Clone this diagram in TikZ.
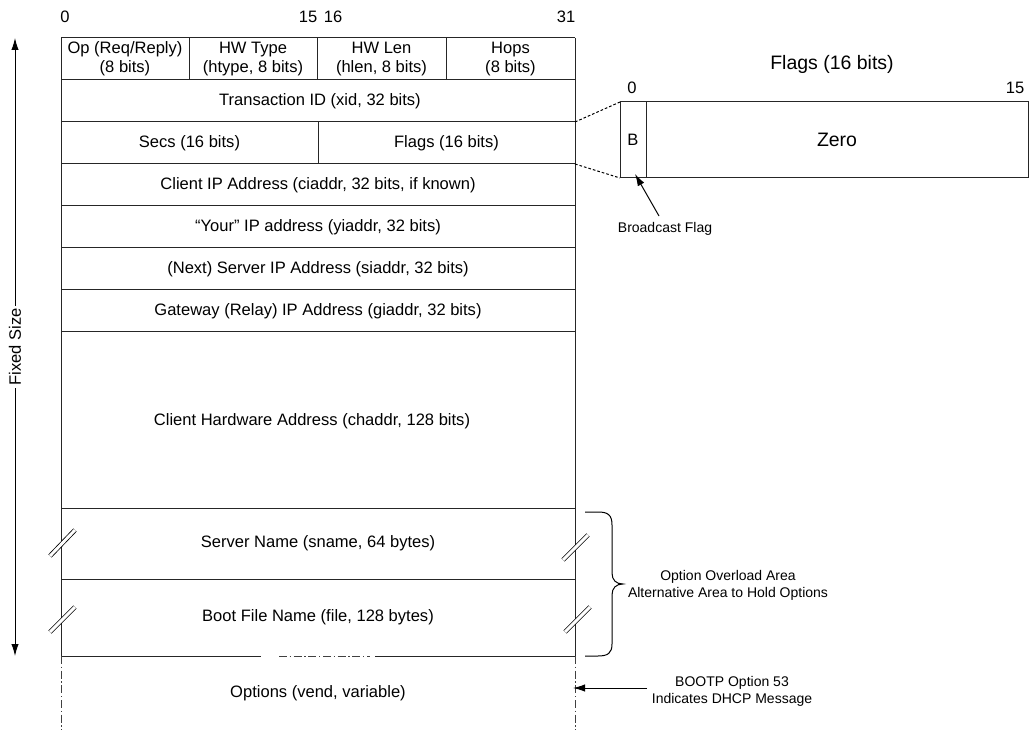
\documentclass[tikz,border=0pt]{standalone}
\usepackage{fontspec}
\setmainfont{Liberation Sans}
\usetikzlibrary{arrows.meta}
\begin{document}
\begin{tikzpicture}[x=0.75pt,y=-0.75pt,
  main/.style={font=\fontsize{12.4}{14.3}\selectfont, align=center, inner sep=0pt},
  small/.style={font=\fontsize{10.5}{12.8}\selectfont, align=center, inner sep=0pt},
  big/.style={font=\fontsize{14.6}{17}\selectfont, inner sep=0pt},
  frame/.style={line width=0.75pt, draw=black!85},
  brk/.style={draw=black, line width=0.6pt, double=white, double distance=2.2pt},
  dashdot/.style={line width=0.75pt, draw=black!75, dash pattern=on 6pt off 2pt on 1pt off 2pt},
  dotline/.style={line width=0.75pt, dash pattern=on 2pt off 1.5pt},
  tip/.style={line width=0.75pt, -{Latex[length=9pt,width=5.5pt]}}]
\useasboundingbox (0,0) rectangle (1030,730);

% bit numbers
\node[main] (n0) at (65,17) {0};
\node[main] (n15) at (308,17) {15};
\node[main] (n16) at (333,17) {16};
\node[main] (n31) at (566,17) {31};

% frame of fixed part
\draw[frame] (61,38) -- (575,38);
\foreach \y in {80,122,164,206,248,290,332,508,579}
  \draw[frame] (61,\y) -- (575,\y);
\draw[frame] (61,38) -- (61,656);
\draw[frame] (575,38) -- (575,656);
\draw[frame] (189,38) -- (189,80);
\draw[frame] (317,38) -- (317,80);
\draw[frame] (446,38) -- (446,80);
\draw[frame] (318,122) -- (318,164);
\draw[frame] (61,656) -- (261,656);
\draw[dashdot] (279,656) -- (370,656);
\draw[frame] (375,656) -- (575,656);
\draw[dashdot] (61,656) -- (61,730);
\draw[dashdot] (575,656) -- (575,730);

% break marks
\draw[brk] (50,556) -- (75,530);
\draw[brk] (50,632) -- (75,607);
\draw[brk] (563,560) -- (588,535);
\draw[brk] (565,632) -- (590,607);

% field texts
\node[main] (op) at (125,59) {Op (Req/Reply)\\(8 bits)};
\node[main] (htype) at (253,59) {HW Type\\(htype, 8 bits)};
\node[main] (hlen) at (381.5,59) {HW Len\\(hlen, 8 bits)};
\node[main] (hops) at (510.5,59) {Hops\\(8 bits)};
\node[main] (xid) at (320,101) {Transaction ID (xid, 32 bits)};
\node[main] (secs) at (189.5,143) {Secs (16 bits)};
\node[main] (flags) at (446.5,143) {Flags (16 bits)};
\node[main] (ciaddr) at (318,185) {Client IP Address (ciaddr, 32 bits, if known)};
\node[main] (yiaddr) at (318,227) {“Your” IP address (yiaddr, 32 bits)};
\node[main] (siaddr) at (318,269) {(Next) Server IP Address (siaddr, 32 bits)};
\node[main] (giaddr) at (318,311) {Gateway (Relay) IP Address (giaddr, 32 bits)};
\node[main] (chaddr) at (312,421) {Client Hardware Address (chaddr, 128 bits)};
\node[main] (sname) at (318,543.5) {Server Name (sname, 64 bytes)};
\node[main] (file) at (318,617.5) {Boot File Name (file, 128 bytes)};
\node[main] (vend) at (318,693) {Options (vend, variable)};

% fixed size arrow
\coordinate (fstop) at (15,38);
\coordinate (fsbot) at (15,656);
\draw[line width=0.75pt, {Latex[length=9pt,width=5.5pt]}-{Latex[length=9pt,width=5.5pt]}] (fstop) -- (fsbot);
\node[main, rotate=90, fill=white, inner sep=1.5pt] (fixed) at (15,347) {Fixed Size};

% flags detail
\node[big] (flagstitle) at (832,64) {Flags (16 bits)};
\node[main] (f0) at (632,88) {0};
\node[main] (f15) at (1015,88) {15};
\coordinate (fbtl) at (620,102);
\coordinate (fbbl) at (620,178);
\draw[frame] (fbtl) rectangle (1028,178);
\draw[frame] (646,102) -- (646,178);
\node[main] (bbit) at (633,140) {B};
\node[big] (zero) at (837,140) {Zero};
\coordinate (flagtr) at (575,122);
\coordinate (flagbr) at (575,164);
\draw[dotline] (flagtr) -- (fbtl);
\draw[dotline] (flagbr) -- (fbbl);

% broadcast flag label
\node[small] (bflabel) at (665,229) {Broadcast Flag};
\coordinate (bfstart) at (659,216);
\coordinate (bfend) at (635,174);
\draw[tip] (bfstart) -- (bfend);

% option overload brace
\draw[line width=0.75pt] (585,512) -- (598,512) .. controls (608,512) and (612,515) .. (612,525)
  -- (612,573) .. controls (612,580) and (616,584) .. (623,584)
  .. controls (616,584) and (612,588) .. (612,595)
  -- (612,644) .. controls (612,653) and (608,656) .. (598,656) -- (585,656);
\node[small] (ovl) at (728,585.5) {Option Overload Area\\Alternative Area to Hold Options};

% BOOTP option 53
\node[small] (bootp) at (732,691.5) {BOOTP Option 53\\Indicates DHCP Message};
\coordinate (o53s) at (647,688);
\coordinate (o53e) at (573,688);
\draw[tip] (o53s) -- (o53e);
\end{tikzpicture}
\end{document}
